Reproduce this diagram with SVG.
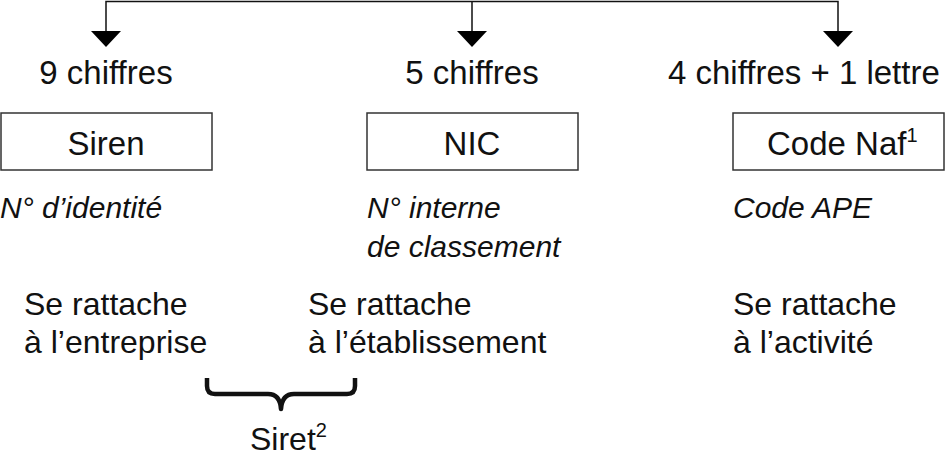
<svg xmlns="http://www.w3.org/2000/svg" width="945" height="463" viewBox="0 0 945 463">
<style>
text{font-family:"Liberation Sans",Arial,sans-serif;fill:#111}
.big{font-size:33px}
.body{font-size:32px}
.it{font-size:30px;font-style:italic}
.sup{font-size:20px}
.box{fill:#fff;stroke:#333;stroke-width:1.5}
.ln{fill:none;stroke:#111;stroke-width:1.5}
.ah{fill:#000}
</style>
<defs>
<polygon id="tri" points="-15,0 15,0 0,16"/>
</defs>
<g id="connectors">
<path class="ln" d="M106,32 V1.5 H838 V32 M472,1.5 V32"/>
<use href="#tri" class="ah" x="106" y="31"/>
<use href="#tri" class="ah" x="472" y="31"/>
<use href="#tri" class="ah" x="838" y="31"/>
</g>
<g id="siren">
<text class="big" x="106" y="84" text-anchor="middle">9 chiffres</text>
<rect class="box" x="1" y="113" width="211" height="57"/>
<text class="big" x="106" y="155" text-anchor="middle">Siren</text>
<text class="it" x="0" y="218">N° d’identité</text>
<text class="body" x="24" y="315">Se rattache</text>
<text class="body" x="24" y="353">à l’entreprise</text>
</g>
<g id="nic">
<text class="big" x="472" y="84" text-anchor="middle">5 chiffres</text>
<rect class="box" x="367" y="113" width="211" height="57"/>
<text class="big" x="472" y="155" text-anchor="middle">NIC</text>
<text class="it" x="367" y="218">N° interne</text>
<text class="it" x="367" y="257">de classement</text>
<text class="body" x="308" y="315">Se rattache</text>
<text class="body" x="308" y="353">à l’établissement</text>
</g>
<g id="naf">
<text class="big" x="668" y="84">4 chiffres + 1 lettre</text>
<rect class="box" x="733" y="113" width="211" height="57"/>
<text class="big" x="767" y="155">Code Naf<tspan class="sup" dy="-13">1</tspan></text>
<text class="it" x="733" y="218">Code APE</text>
<text class="body" x="733" y="315">Se rattache</text>
<text class="body" x="733" y="353">à l’activité</text>
</g>
<g id="siret">
<path fill="none" stroke="#111" stroke-width="4.5" stroke-linejoin="round" d="M207,378 V386 Q207,394 215,394 H268 Q280,394 281,409 Q282,394 294,394 H347 Q355,394 355,386 V378"/>
<text class="body" x="250" y="450">Siret<tspan class="sup" dy="-13">2</tspan></text>
</g>
</svg>
